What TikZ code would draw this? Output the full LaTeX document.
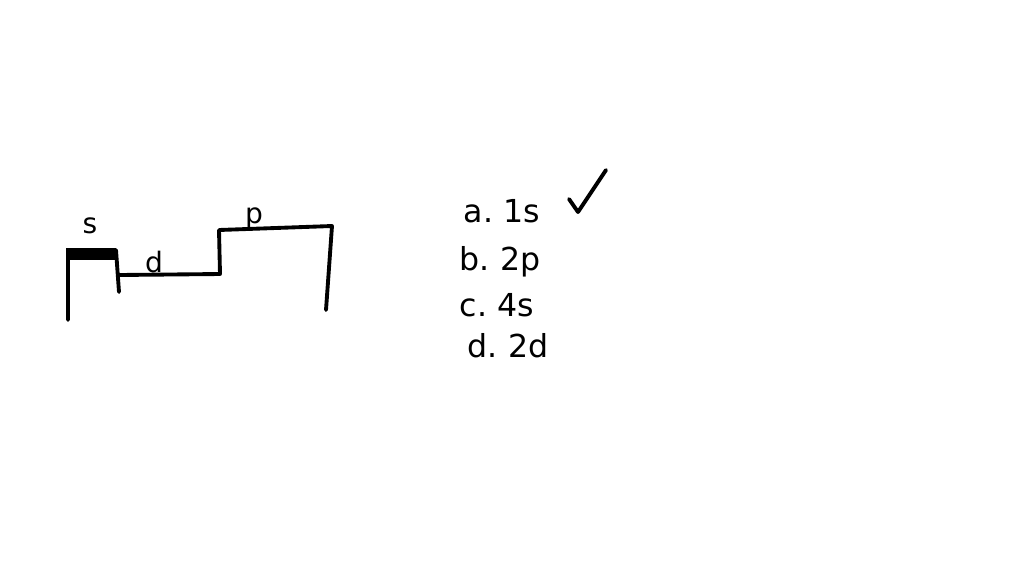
\documentclass[tikz,border=0pt]{standalone}
\usepackage{fontspec}
\setmainfont{DejaVu Sans}
\usetikzlibrary{calc}

\begin{document}
\begin{tikzpicture}[x=0.02cm, y=-0.02cm, line width=2.2pt, line cap=round, line join=round,
		lbl/.style={font=\fontsize{16}{19}\selectfont},
		opt/.style={font=\fontsize{18}{22}\selectfont, anchor=west}]
					\useasboundingbox (0,0) rectangle (1024,576);

					% orbital blocks
					\begin{scope}
						\coordinate (sA) at (68,320);
						\coordinate (sB) at (68,253);
						\coordinate (sC) at (116,250);
						\coordinate (sD) at (119,292);
						\coordinate (dA) at (119,275);
						\coordinate (dB) at (220,274);
						\coordinate (pA) at (219,230);
						\coordinate (pB) at (332,226);
						\coordinate (pC) at (326,310);
						\fill (66,248) rectangle (116,260);
						\draw (sA) -- (sB) -- (sC) -- (sD);
						\draw (dA) -- (dB) -- (pA) -- (pB) -- (pC);
					\end{scope}

					\begin{scope}
						\node[lbl] (s) at (90,226) {s};
						\node[lbl] (d) at (154,262) {d};
						\node[lbl] (p) at (254,219) {p};
					\end{scope}

					% answers
					\begin{scope}
						\node[opt] (a) at (456,211) {a.\,\,1s};
						\node[opt] (b) at (452,262) {b.\,\,2p};
						\node[opt] (c) at (452,305) {c.\,\,4s};
						\node[opt] (e) at (460,346) {d.\,\,2d};
						\draw (569,199) -- (578,212) -- (606,170);
					\end{scope}
				\end{tikzpicture}
\end{document}
